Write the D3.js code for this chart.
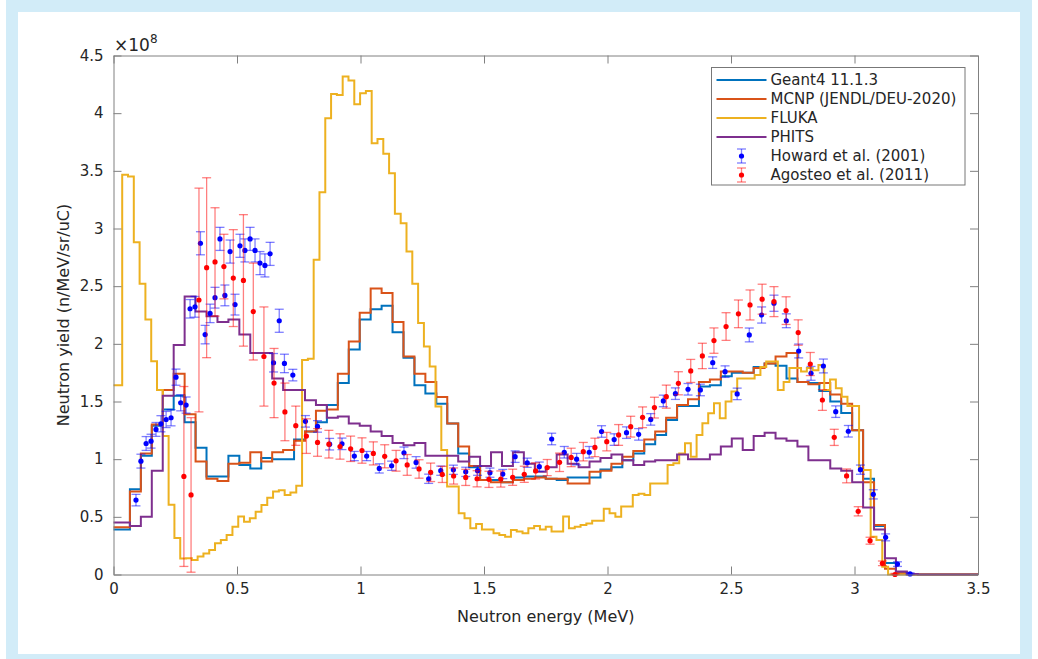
<!DOCTYPE html>
<html lang="en">
<head>
<meta charset="utf-8">
<title>Neutron yield</title>
<script src="https://cdn.jsdelivr.net/npm/d3@7"></script>
<style>
  body { margin: 0; background: #fff; }
  text { font-family: "DejaVu Sans", sans-serif; fill: #262626; }
</style>
</head>
<body>
<div id="chart"></div>
<script>
// all yields in units of 1e8 n/MeV/sr/uC
// Geant4 / MCNP / PHITS: 79 bins over 0-3.5 MeV, FLUKA: 149 bins
const geant4 = [0.39,0.74,1.03,1.29,1.43,1.55,1.32,1.10,0.85,0.85,
  1.03,0.95,0.92,1.01,1.00,1.00,1.17,1.24,1.32,1.47,
  1.66,1.95,2.21,2.30,2.33,2.10,1.88,1.64,1.57,1.48,
  1.31,1.05,0.93,0.82,0.82,0.80,0.84,0.85,0.85,0.83,
  0.82,0.84,0.84,0.84,0.91,0.93,0.99,1.05,1.13,1.21,
  1.34,1.46,1.46,1.63,1.64,1.72,1.75,1.75,1.80,1.83,
  1.81,1.70,1.67,1.66,1.59,1.50,1.40,1.25,0.83,0.42,
  0.10,0.02,0,0,0,0,0,0,0];
const mcnp = [0.41,0.72,1.05,1.30,1.60,1.74,1.39,0.98,0.83,0.81,
  0.96,0.97,1.06,0.98,1.06,1.08,1.16,1.24,1.42,1.43,
  1.74,2.02,2.27,2.48,2.44,2.19,1.89,1.74,1.67,1.54,
  1.31,1.11,0.94,0.82,0.80,0.80,0.82,0.83,0.84,0.83,
  0.83,0.79,0.79,0.89,0.90,0.96,1.02,1.07,1.17,1.24,
  1.36,1.47,1.52,1.67,1.69,1.76,1.76,1.75,1.79,1.83,
  1.89,1.92,1.67,1.65,1.66,1.56,1.48,1.25,0.80,0.43,
  0.05,0.01,0,0,0,0,0,0,0];
const phits = [0.45,0.42,0.50,0.90,1.55,1.99,2.41,2.28,2.24,2.19,
  2.21,2.08,1.92,1.92,1.70,1.60,1.60,1.51,1.47,1.36,
  1.37,1.31,1.29,1.24,1.20,1.14,1.12,1.14,1.03,1.03,
  1.03,0.98,1.02,0.94,1.06,0.94,1.06,0.96,0.89,0.93,
  1.04,0.96,0.93,0.98,1.01,1.04,0.99,0.95,0.98,0.99,
  0.99,1.04,1.00,1.00,1.04,1.11,1.18,1.08,1.20,1.23,
  1.18,1.16,1.11,0.99,0.99,0.92,0.90,0.80,0.58,0.39,
  0.14,0.025,0.005,0,0,0,0,0,0];
const fluka = [1.64,3.465,3.45,2.88,2.52,2.21,1.85,1.60,1.20,0.605,
  0.316,0.138,0.14,0.126,0.155,0.183,0.212,0.27,0.30,0.343,
  0.415,0.502,0.458,0.487,0.545,0.603,0.665,0.72,0.73,0.69,
  0.71,0.77,1.86,1.87,2.73,3.315,3.956,4.167,4.157,4.318,
  4.283,4.078,4.173,4.193,3.74,3.777,3.648,3.48,3.127,3.046,
  2.80,2.52,2.18,1.976,1.803,1.456,1.08,0.762,0.762,0.53,
  0.487,0.40,0.438,0.39,0.39,0.357,0.343,0.328,0.386,0.372,
  0.357,0.40,0.42,0.39,0.414,0.372,0.372,0.502,0.40,0.415,
  0.43,0.443,0.466,0.466,0.57,0.53,0.50,0.589,0.589,0.69,
  0.70,0.69,0.79,0.79,0.79,0.95,0.965,1.05,1.137,1.022,
  1.21,1.311,1.398,1.484,1.354,1.50,1.586,1.70,1.70,1.70,
  1.73,1.80,1.846,1.846,1.60,1.67,1.79,1.79,1.76,1.79,
  1.77,1.816,1.60,1.69,1.615,1.542,1.46,1.46,0.906,0.906,
  0.328,0.30,0.068,0,0,0,0,0,0,0,
  0,0,0,0,0,0,0,0,0];

// Howard et al. (2001): energy (MeV), yield, error
const howardE = [0.091,0.111,0.132,0.152,0.172,0.192,0.213,0.233,0.253,0.272,
  0.294,0.310,0.330,0.352,0.371,0.391,0.411,0.431,0.451,0.472,
  0.492,0.512,0.532,0.553,0.573,0.593,0.613,0.634,0.648,0.671,
  0.692,0.726,0.777,0.826,0.875,0.925,0.975,1.025,1.076,1.126,
  1.176,1.225,1.276,1.325,1.376,1.426,1.474,1.524,1.576,1.626,
  1.675,1.724,1.774,1.825,1.875,1.926,1.976,2.027,2.077,2.126,
  2.175,2.226,2.275,2.326,2.376,2.426,2.476,2.525,2.574,2.624,
  2.674,2.724,2.774,2.824,2.874,2.924,2.975,3.024,3.076,3.126,
  3.174,3.225];
const howardY = [0.645,0.983,1.136,1.156,1.258,1.307,1.344,1.359,1.711,1.489,
  1.469,2.304,2.321,2.872,2.08,2.264,2.40,2.91,2.42,2.80,
  2.34,2.85,2.81,2.91,2.81,2.70,2.68,2.78,1.836,2.20,
  1.83,1.729,1.328,1.284,1.13,1.133,1.027,1.027,0.92,0.943,
  1.055,0.972,0.83,0.90,0.908,0.89,0.90,0.883,0.871,1.022,
  0.969,0.935,1.175,1.06,1.00,1.06,1.24,1.17,1.23,1.215,
  1.345,1.505,1.568,1.606,1.60,1.837,1.759,1.566,2.077,2.25,
  2.352,2.20,1.938,1.744,1.808,1.412,1.242,0.909,0.695,0.322,
  0.09,0.005];
const howardErr = [0.05,0.06,0.06,0.06,0.06,0.07,0.07,0.07,0.07,0.07,
  0.07,0.08,0.09,0.10,0.08,0.08,0.09,0.10,0.09,0.10,
  0.09,0.10,0.10,0.10,0.10,0.10,0.10,0.10,0.08,0.10,
  0.08,0.05,0.05,0.05,0.05,0.05,0.04,0.04,0.04,0.04,
  0.05,0.05,0.04,0.04,0.04,0.04,0.04,0.04,0.04,0.05,
  0.04,0.04,0.05,0.05,0.05,0.05,0.05,0.05,0.05,0.05,
  0.05,0.05,0.05,0.05,0.05,0.05,0.05,0.05,0.06,0.07,
  0.07,0.06,0.06,0.06,0.06,0.05,0.05,0.04,0.04,0.03,
  0.02,0.01];

// Agosteo et al. (2011)
const agosteoE = [0.285,0.314,0.346,0.377,0.411,0.447,0.485,0.526,0.566,0.609,
  0.650,0.694,0.738,0.781,0.826,0.872,0.917,0.960,1.006,1.052,
  1.098,1.144,1.189,1.237,1.284,1.331,1.377,1.426,1.472,1.520,
  1.568,1.616,1.663,1.709,1.756,1.806,1.853,1.902,1.949,1.997,
  2.045,2.094,2.142,2.190,2.238,2.287,2.337,2.384,2.431,2.480,
  2.530,2.577,2.626,2.674,2.723,2.772,2.821,2.870,2.918,2.968,
  3.015,3.063,3.113,3.164];
const agosteoY = [0.85,0.69,2.38,2.66,2.71,2.67,2.57,2.55,2.28,1.89,
  1.66,1.41,1.29,1.20,1.145,1.13,1.11,1.09,1.075,1.05,
  1.025,0.986,0.95,0.915,0.886,0.868,0.854,0.842,0.83,0.825,
  0.828,0.843,0.869,0.898,0.927,0.973,1.015,1.065,1.102,1.152,
  1.21,1.282,1.363,1.447,1.542,1.658,1.765,1.895,2.028,2.15,
  2.26,2.337,2.387,2.366,2.288,2.098,1.825,1.513,1.189,0.855,
  0.548,0.293,0.097,0.0];
const agosteoErr = [0.78,0.67,0.97,0.78,0.47,0.28,0.42,0.57,0.42,0.43,
  0.30,0.25,0.17,0.15,0.12,0.12,0.11,0.11,0.11,0.10,
  0.10,0.09,0.09,0.08,0.08,0.07,0.07,0.07,0.07,0.07,
  0.07,0.07,0.07,0.07,0.07,0.08,0.08,0.08,0.08,0.08,
  0.09,0.09,0.09,0.09,0.10,0.10,0.10,0.11,0.11,0.12,
  0.12,0.13,0.13,0.13,0.12,0.11,0.10,0.09,0.07,0.06,
  0.04,0.03,0.02,0.01];

const xTicks = [0,0.5,1,1.5,2,2.5,3,3.5];
const yTicks = [0,0.5,1,1.5,2,2.5,3,3.5,4,4.5];

const seriesNames = ["Geant4 11.1.3","MCNP (JENDL/DEU-2020)","FLUKA","PHITS","Howard et al. (2001)","Agosteo et al. (2011)"];
const seriesColors = ["#0072BD","#D95319","#EDB120","#7E2F8E","#0000FF","#FF0000"];

let w = 1038;
let h = 659;
let mLeft = 113.5, mRight = 978, mTop = 55.5, mBottom = 574.5;

let svg = d3.select("#chart")
  .append("svg")
  .attr("width", w)
  .attr("height", h)

// light blue page frame
svg.append("rect")
  .attr("x", 12).attr("y", 6)
  .attr("width", 1014).attr("height", 654)
  .attr("fill", "none")
  .attr("stroke", "#d2ecf8")
  .attr("stroke-width", 12)

let xScale = d3.scaleLinear().domain([0, 3.5]).range([mLeft, mRight])
let yScale = d3.scaleLinear().domain([0, 4.5]).range([mBottom, mTop])

// stairs: value k is held from bin centre k to bin centre k+1
const stairs = (vals) => {
  let n = vals.length;
  let pts = vals.map((v, k) => [k === 0 ? 0 : (k + 0.5) * 3.5 / n, v]);
  pts.push([3.5, vals[n - 1]]);
  return pts;
}

let line = d3.line()
  .x(d => xScale(d[0]))
  .y(d => yScale(d[1]))
  .curve(d3.curveStepAfter)

let plot = svg.append("g")

;[geant4, mcnp, fluka, phits].forEach((vals, i) => {
  plot.append("path")
    .datum(stairs(vals))
    .attr("d", line)
    .attr("fill", "none")
    .attr("stroke", seriesColors[i])
    .attr("stroke-width", 2)
})

const drawErr = (g, E, Y, Err, color) => {
  let pts = E.map((e, i) => ({e: e, v: Y[i], err: Err[i]}));
  let bars = g.append("g").attr("stroke", color).attr("stroke-opacity", 0.5).attr("stroke-width", 1.3)
  bars.selectAll("line.v").data(pts).enter().append("line")
    .attr("x1", d => xScale(d.e)).attr("x2", d => xScale(d.e))
    .attr("y1", d => yScale(Math.max(0, d.v - d.err))).attr("y2", d => yScale(d.v + d.err))
  bars.selectAll("line.lo").data(pts).enter().append("line")
    .attr("x1", d => xScale(d.e) - 4.5).attr("x2", d => xScale(d.e) + 4.5)
    .attr("y1", d => yScale(Math.max(0, d.v - d.err))).attr("y2", d => yScale(Math.max(0, d.v - d.err)))
  bars.selectAll("line.hi").data(pts).enter().append("line")
    .attr("x1", d => xScale(d.e) - 4.5).attr("x2", d => xScale(d.e) + 4.5)
    .attr("y1", d => yScale(d.v + d.err)).attr("y2", d => yScale(d.v + d.err))
  g.selectAll("circle").data(pts).enter().append("circle")
    .attr("cx", d => xScale(d.e)).attr("cy", d => yScale(d.v))
    .attr("r", 2.6).attr("fill", color)
}
drawErr(plot.append("g"), howardE, howardY, howardErr, seriesColors[4])
drawErr(plot.append("g"), agosteoE, agosteoY, agosteoErr, seriesColors[5])

// axes with inward ticks on all four sides
const styleAxis = (g) => {
  g.select(".domain").attr("stroke", "#808080")
  g.selectAll(".tick line").attr("stroke", "#808080")
  g.selectAll(".tick text").attr("font-size", 15).attr("fill", "#262626")
    .attr("font-family", "DejaVu Sans")
}
svg.append("g").attr("transform", "translate(0," + mBottom + ")")
  .call(d3.axisBottom(xScale).tickValues(xTicks).tickFormat(d3.format("")).tickSizeInner(-8).tickSizeOuter(0).tickPadding(9))
  .call(styleAxis)
svg.append("g").attr("transform", "translate(0," + mTop + ")")
  .call(d3.axisTop(xScale).tickValues(xTicks).tickFormat("").tickSizeInner(-8).tickSizeOuter(0))
  .call(styleAxis)
svg.append("g").attr("transform", "translate(" + mLeft + ",0)")
  .call(d3.axisLeft(yScale).tickValues(yTicks).tickFormat(d3.format("")).tickSizeInner(-8).tickSizeOuter(0).tickPadding(10))
  .call(styleAxis)
svg.append("g").attr("transform", "translate(" + mRight + ",0)")
  .call(d3.axisRight(yScale).tickValues(yTicks).tickFormat("").tickSizeInner(-8).tickSizeOuter(0))
  .call(styleAxis)

// exponent label
let expo = svg.append("text").attr("x", 114).attr("y", 51).attr("font-size", 17)
expo.append("tspan").text("\u00d710")
expo.append("tspan").attr("dy", -8).attr("font-size", 12).text("8")

svg.append("text")
  .attr("x", (mLeft + mRight) / 2).attr("y", 622)
  .attr("text-anchor", "middle").attr("font-size", 16)
  .text("Neutron energy (MeV)")
svg.append("text")
  .attr("transform", "translate(69," + ((mTop + mBottom) / 2) + ") rotate(-90)")
  .attr("text-anchor", "middle").attr("font-size", 16)
  .text("Neutron yield (n/MeV/sr/uC)")

// legend
let lg = svg.append("g").attr("transform", "translate(711.5,67.5)")
lg.append("rect").attr("width", 253.5).attr("height", 117.5)
  .attr("fill", "#fff").attr("stroke", "#777").attr("stroke-width", 1)
seriesNames.forEach((name, i) => {
  let yy = 12.5 + i * 19;
  if (i < 4) {
    lg.append("line").attr("x1", 5).attr("x2", 55).attr("y1", yy).attr("y2", yy)
      .attr("stroke", seriesColors[i]).attr("stroke-width", 2)
  } else {
    let eg = lg.append("g").attr("stroke", seriesColors[i]).attr("stroke-opacity", 0.5).attr("stroke-width", 1.3)
    eg.append("line").attr("x1", 30).attr("x2", 30).attr("y1", yy - 7).attr("y2", yy + 7)
    eg.append("line").attr("x1", 25.5).attr("x2", 34.5).attr("y1", yy - 7).attr("y2", yy - 7)
    eg.append("line").attr("x1", 25.5).attr("x2", 34.5).attr("y1", yy + 7).attr("y2", yy + 7)
    lg.append("circle").attr("cx", 30).attr("cy", yy).attr("r", 2.6).attr("fill", seriesColors[i])
  }
  lg.append("text").attr("x", 59).attr("y", yy).attr("dy", "0.35em")
    .attr("font-size", 15).text(name)
})
</script>
</body>
</html>
